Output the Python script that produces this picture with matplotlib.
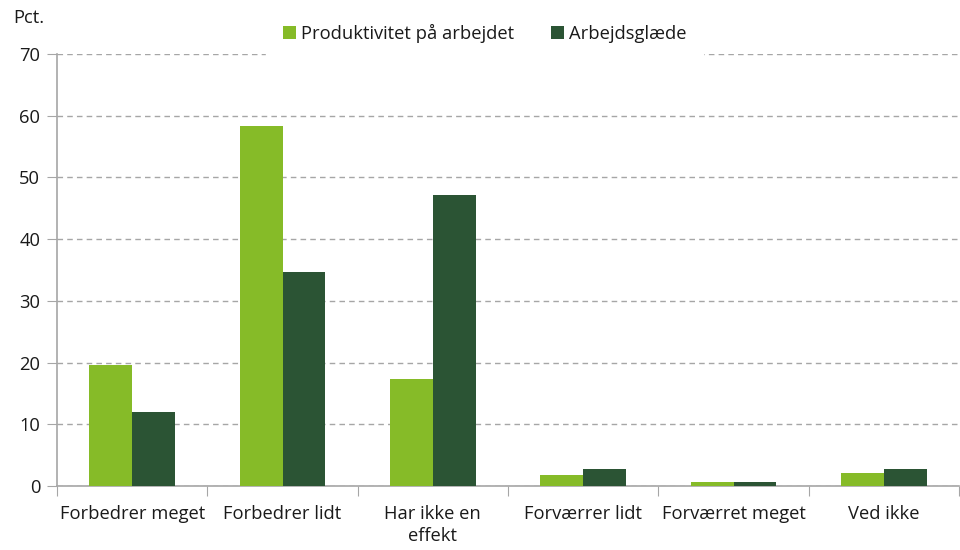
import numpy as np
import matplotlib
matplotlib.use("Agg")
import matplotlib.pyplot as plt
from matplotlib.ticker import FixedLocator

plt.rcParams['font.family'] = ['Open Sans', 'DejaVu Sans']

categories = ["Forbedrer meget", "Forbedrer lidt", "Har ikke en\neffekt",
              "Forværrer lidt", "Forværret meget", "Ved ikke"]
produktivitet = [19.6, 58.3, 17.3, 1.8, 0.7, 2.1]
arbejdsglaede = [12.0, 34.7, 47.2, 2.7, 0.65, 2.7]
series_names = ["Produktivitet på arbejdet", "Arbejdsglæde"]

fs = 13.2

fig = plt.figure(figsize=(9.6, 5.5), dpi=100)
ax = fig.add_axes([0.0594, 0.1164, 0.9396, 0.7854])

x = np.arange(len(categories))
w = 0.285
ax.bar(x - w / 2, produktivitet, w, color="#86bb28", label=series_names[0], zorder=3)
ax.bar(x + w / 2, arbejdsglaede, w, color="#2b5434", label=series_names[1], zorder=3)

ax.set_xlim(-0.5, len(categories) - 0.5)
ax.set_ylim(0, 70)
ax.set_yticks(range(0, 71, 10))
ax.yaxis.grid(True, linestyle=(0, (4, 3)), color="#a6a6a6", linewidth=1)
ax.set_axisbelow(True)

# boundary ticks below, labels centered under each group
ax.xaxis.set_major_locator(FixedLocator(np.arange(len(categories) + 1) - 0.5))
ax.xaxis.set_major_formatter(plt.NullFormatter())
ax.xaxis.set_minor_locator(FixedLocator(x))
ax.set_xticklabels(categories, minor=True, linespacing=1.25)
ax.tick_params(axis="x", which="major", length=7, color="#a6a6a6", direction="out")
ax.tick_params(axis="x", which="minor", length=0, labelsize=fs, pad=14, colors="#1a1a1a")
ax.tick_params(axis="y", length=7, color="#a6a6a6", labelsize=fs, colors="#1a1a1a", pad=5)

for side in ["top", "right"]:
    ax.spines[side].set_visible(False)
for side in ["left", "bottom"]:
    ax.spines[side].set_color("#a6a6a6")
    ax.spines[side].set_linewidth(1.2)

fig.text(0.014, 0.967, "Pct.", fontsize=fs, color="#1a1a1a", va="center")

leg = fig.legend(loc="center", bbox_to_anchor=(0.505, 0.94), ncol=2, frameon=True,
                 fontsize=fs, handlelength=0.7, handleheight=0.7, handletextpad=0.3,
                 columnspacing=2.0, borderpad=0.9, fancybox=False)
leg.get_frame().set_edgecolor("white")
leg.get_frame().set_facecolor("white")
leg.get_frame().set_alpha(1)
for t in leg.get_texts():
    t.set_color("#1a1a1a")

plt.savefig("out.png", dpi=100)
